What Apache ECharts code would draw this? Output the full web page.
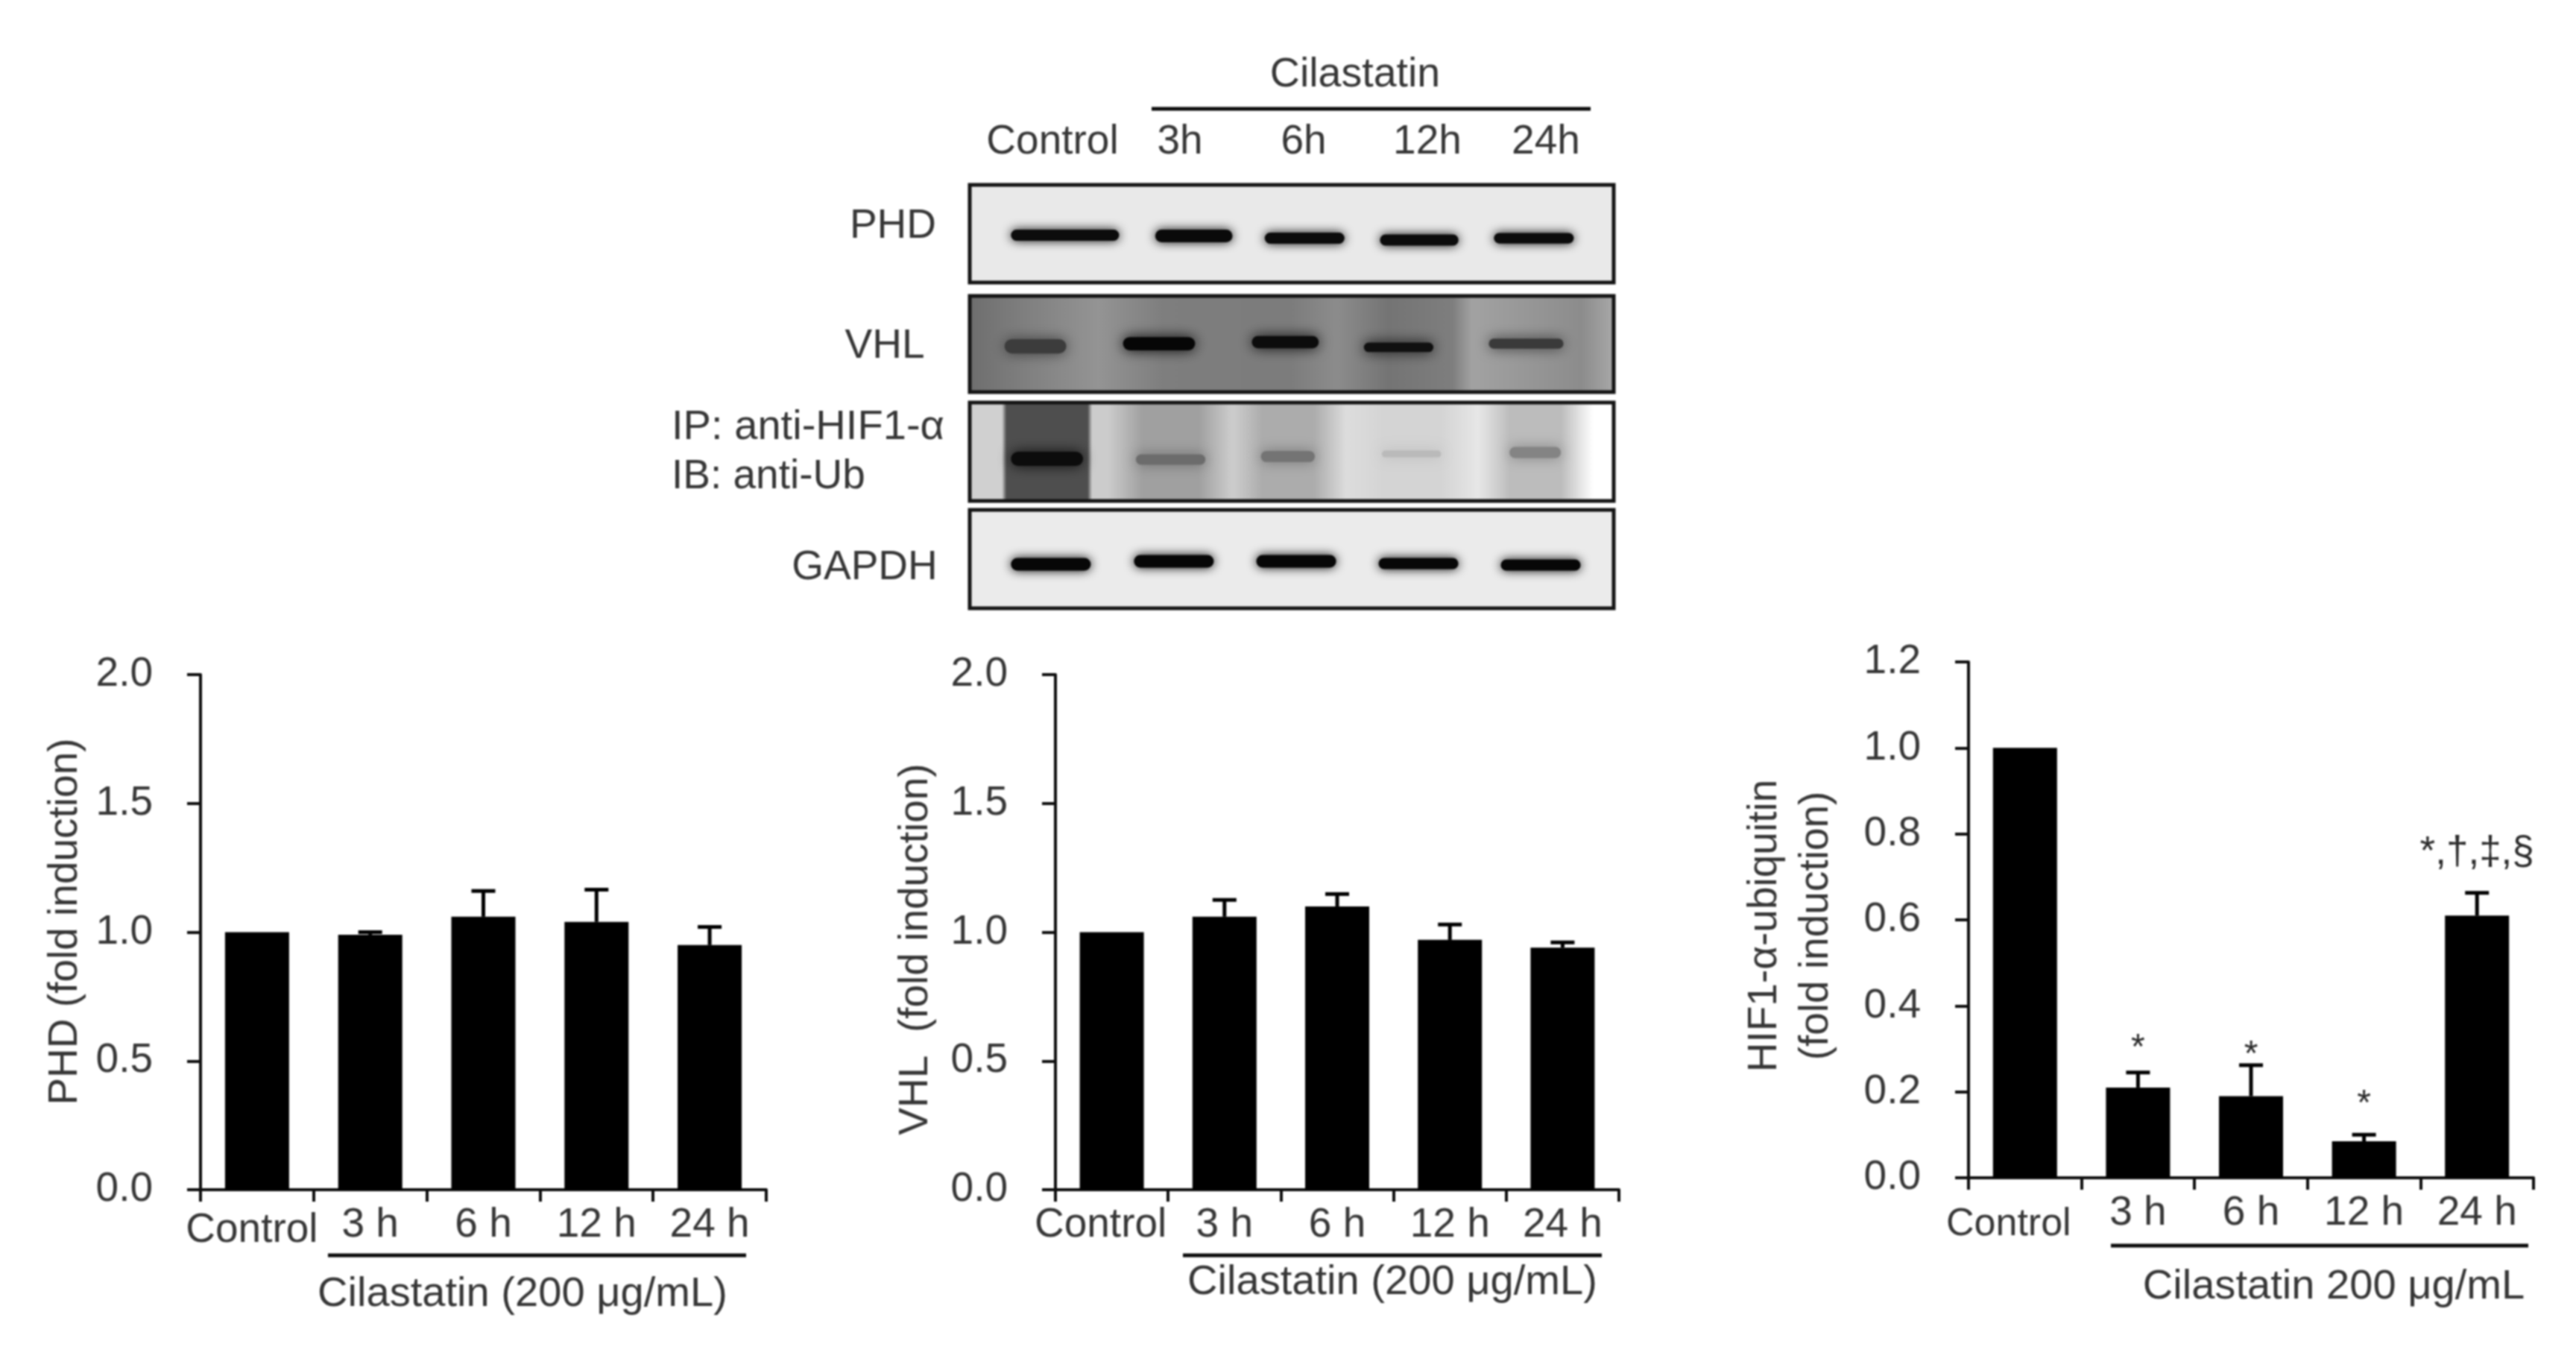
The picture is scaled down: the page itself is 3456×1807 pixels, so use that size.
<!DOCTYPE html>
<html>
<head>
<meta charset="utf-8">
<script src="https://cdn.jsdelivr.net/npm/echarts@6/dist/echarts.min.js"></script>
<style>
html,body{margin:0;padding:0;background:#fff}
#chart{width:3456px;height:1807px;filter:blur(1.1px)}
</style>
</head>
<body>
<div id="chart"></div>
<script>
// ---------- data ----------
const categories = ['Control', '3 h', '6 h', '12 h', '24 h'];
const phdMeans   = [1.0, 0.99, 1.06, 1.04, 0.95];
const phdUpper   = [1.0, 1.0, 1.16, 1.165, 1.02];
const vhlMeans   = [1.0, 1.06, 1.10, 0.97, 0.94];
const vhlUpper   = [1.0, 1.125, 1.148, 1.03, 0.96];
const ubqMeans   = [1.0, 0.21, 0.19, 0.085, 0.61];
const ubqUpper   = [1.0, 0.245, 0.262, 0.10, 0.663];
const ubqSigText = ['*', '*', '*', '*,†,‡,§'];
const ubqSigLane = [1, 2, 3, 3.96];
const ubqSigPos  = [0.30, 0.285, 0.17, 0.755];
const blotLanes  = ['Control', '3h', '6h', '12h', '24h'];

// blot panels: [top, bottom] in panel rows
const panelRows  = [[0, 0.923], [1.049, 1.958], [2.056, 2.986], [3.07, 4.0]];
// blot bands, per panel: lane position, row position, width, thickness, shade
const phdBands = [[0.74,0.475,0.84,0.105,'#0c0c0c'],[1.74,0.482,0.60,0.12,'#0a0a0a'],[2.60,0.504,0.62,0.105,'#0c0c0c'],[3.49,0.521,0.61,0.105,'#0c0c0c'],[4.38,0.504,0.62,0.10,'#0c0c0c']];
const vhlBands = [[0.51,1.525,0.48,0.135,'#3c3c3c'],[1.47,1.50,0.56,0.125,'#060606'],[2.45,1.486,0.52,0.115,'#0c0c0c'],[3.33,1.535,0.54,0.09,'#101010'],[4.32,1.50,0.58,0.095,'#3a3a3a']];
const ipLanes  = [[0.60,0.70,'#4e4e4e'],[1.56,0.98,'#a0a0a0'],[2.47,0.90,'#acacac'],[3.43,1.02,'#d4d4d4'],[4.39,0.90,'#bcbcbc']];
const ipBands  = [[0.60,2.588,0.56,0.135,'#0c0c0c'],[1.56,2.595,0.54,0.10,'#6c6c6c'],[2.47,2.566,0.42,0.105,'#747474'],[3.43,2.542,0.46,0.065,'#bababa'],[4.39,2.528,0.40,0.105,'#848484']];
const gapdhBands = [[0.63,3.585,0.62,0.12,'#070707'],[1.585,3.556,0.62,0.12,'#070707'],[2.535,3.556,0.62,0.12,'#070707'],[3.484,3.577,0.62,0.105,'#070707'],[4.433,3.592,0.62,0.105,'#070707']];

// ---------- styles ----------
const FONT = '"Liberation Sans", Arial, sans-serif';
const TXT = '#363636', INK = '#0d0d0d', FS = 55;
const G = echarts.graphic;
const hGrad = (stops) => new G.LinearGradient(0, 0, 1, 0, stops.map((c) => ({offset: c[0], color: c[1]})));
const panelFills = [
  '#e9e9e9',
  hGrad([[0,'#6e6e6e'],[0.08,'#7e7e7e'],[0.2,'#949494'],[0.3,'#7e7e7e'],[0.5,'#7c7c7c'],[0.57,'#8c8c8c'],[0.65,'#747474'],[0.75,'#7e7e7e'],[0.78,'#a2a2a2'],[0.95,'#8c8c8c'],[1,'#a8a8a8']]),
  hGrad([[0,'#d0d0d0'],[0.06,'#d0d0d0'],[0.2,'#cccccc'],[0.38,'#cecece'],[0.58,'#dcdcdc'],[0.78,'#e6e6e6'],[0.95,'#ffffff'],[1,'#ffffff']]),
  '#ebebeb'
];
const bandBlur = (i) => (i >= 5 && i < 15) ? 18 : 14;

const panels = [
  {left:269,  top:905, height:691, w:759, max:2.0, step:0.5, means:phdMeans, upper:phdUpper,
   name:'PHD (fold induction)', gap:147, pad:[0,0,0,28], ctrl:[7,14,0,0], ctrlFs:55},
  {left:1416, top:905, height:691, w:756, max:2.0, step:0.5, means:vhlMeans, upper:vhlUpper,
   name:'VHL  (fold induction)', gap:153, pad:[0,46,0,0], ctrl:[0,30,0,0], ctrlFs:55},
  {left:2641, top:888, height:692, w:758, max:1.2, step:0.2, means:ubqMeans, upper:ubqUpper,
   name:'HIF1-α-ubiquitin\n(fold induction)', gap:170, pad:[0,16,0,0], ctrl:[17,44,0,0], ctrlFs:52}
];

const grids = [], xAxes = [], yAxes = [], series = [];
panels.forEach((p, i) => {
  grids.push({left:p.left, top:p.top, width:p.w, height:p.height, containLabel:false});
  xAxes.push({
    gridIndex:i, type:'category', data:categories, boundaryGap:true,
    axisLine:{show:true, onZero:false, lineStyle:{color:INK, width:4}},
    axisTick:{show:true, inside:false, length:16, alignWithLabel:false, lineStyle:{color:INK, width:4}},
    axisLabel:{
      interval:0, margin:20, color:TXT, fontFamily:FONT, fontSize:FS, hideOverlap:false,
      formatter:(v) => v === 'Control' ? '{c|' + v + '}' : v,
      rich:{c:{fontFamily:FONT, fontSize:p.ctrlFs, color:TXT, padding:p.ctrl}}
    }
  });
  yAxes.push({
    gridIndex:i, type:'value', min:0, max:p.max, interval:p.step,
    name:p.name, nameLocation:'middle', nameGap:p.gap, nameRotate:90,
    nameTextStyle:{color:TXT, fontFamily:FONT, fontSize:FS, lineHeight:69, padding:p.pad},
    axisLine:{show:true, lineStyle:{color:INK, width:4}},
    axisTick:{show:true, inside:false, length:18, lineStyle:{color:INK, width:4}},
    splitLine:{show:false},
    axisLabel:{margin:64, color:TXT, fontFamily:FONT, fontSize:FS, formatter:(v) => v.toFixed(1)}
  });
  series.push({
    type:'bar', xAxisIndex:i, yAxisIndex:i, data:p.means, barWidth:86,
    itemStyle:{color:'#000'}, silent:true, z:3
  });
  series.push({
    type:'custom', xAxisIndex:i, yAxisIndex:i, z:2, silent:true, clip:false,
    data:p.upper.map((u, k) => [k, p.means[k], u]).filter((d) => d[2] > d[1]),
    encode:{x:0, y:[1,2]},
    renderItem:(params, api) => {
      const x = api.value(0);
      const a = api.coord([x, api.value(1)]);
      const b = api.coord([x, api.value(2)]);
      const st = {stroke:'#000', lineWidth:5};
      return {type:'group', children:[
        {type:'line', shape:{x1:a[0], y1:a[1], x2:b[0], y2:b[1]}, style:st},
        {type:'line', shape:{x1:b[0]-16, y1:b[1], x2:b[0]+16, y2:b[1]}, style:st}
      ]};
    }
  });
});

// significance marks on the third panel
series.push({
  type:'custom', xAxisIndex:2, yAxisIndex:2, z:4, silent:true, clip:false,
  data:ubqSigLane.map((l, k) => [l, ubqSigPos[k]]),
  encode:{x:0, y:1},
  renderItem:(params, api) => {
    const c = api.coord([api.value(0), api.value(1)]);
    const t = ubqSigText[params.dataIndex];
    return {type:'text', x:c[0], y:c[1], style:{
      text:t, fill:'#2a2a2a', font:(t.length > 1 ? 53 : 48) + 'px ' + FONT,
      textAlign:'center', textVerticalAlign:'middle'
    }};
  }
});

// blot coordinate system: lanes across, panel rows down
grids.push({left:1301, top:248, width:864, height:568, containLabel:false});
xAxes.push({gridIndex:3, type:'value', min:0, max:5, show:false});
yAxes.push({gridIndex:3, type:'value', min:0, max:4, inverse:true, show:false});

const blotBase = {type:'custom', xAxisIndex:3, yAxisIndex:3, silent:true, clip:false};
series.push(Object.assign({}, blotBase, {
  z:5, data:panelRows.map((r) => [0, r[0], 5, r[1]]), encode:{x:[0,2], y:[1,3]},
  renderItem:(params, api) => {
    const a = api.coord([0, api.value(1)]), b = api.coord([5, api.value(3)]);
    return {type:'rect', shape:{x:a[0], y:a[1], width:b[0]-a[0], height:b[1]-a[1]},
            style:{fill:panelFills[params.dataIndex]}};
  }
}));
series.push(Object.assign({}, blotBase, {
  z:6, data:ipLanes.map((l) => [l[0], l[1]]), encode:{x:0},
  renderItem:(params, api) => {
    const x = api.value(0), w = api.value(1);
    const r = panelRows[2];
    const a = api.coord([x - w / 2, r[0]]), b = api.coord([x + w / 2, r[1]]);
    const col = ipLanes[params.dataIndex][2];
    const e = params.dataIndex === 0 ? 0.05 : 0.28;
    return {type:'rect', shape:{x:a[0], y:a[1], width:b[0]-a[0], height:b[1]-a[1]},
            style:{fill:new G.LinearGradient(0, 0, 1, 0, [
              {offset:0, color:col + '00'}, {offset:e, color:col},
              {offset:1 - e, color:col}, {offset:1, color:col + '00'}])}};
  }
}));
const allBands = [].concat(phdBands, vhlBands, ipBands, gapdhBands);
series.push(Object.assign({}, blotBase, {
  z:7, data:allBands.map((b) => [b[0], b[1], b[2], b[3]]), encode:{x:0, y:1},
  renderItem:(params, api) => {
    const c = api.coord([api.value(0), api.value(1)]);
    const s = api.size([api.value(2), api.value(3)]);
    const col = allBands[params.dataIndex][4];
    return {type:'rect', shape:{x:c[0]-s[0]/2, y:c[1]-s[1]/2, width:s[0], height:s[1], r:s[1]/2},
            style:{fill:col, shadowBlur:bandBlur(params.dataIndex), shadowColor:col}};
  }
}));
series.push(Object.assign({}, blotBase, {
  z:8, data:panelRows.map((r) => [0, r[0], 5, r[1]]), encode:{x:[0,2], y:[1,3]},
  renderItem:(params, api) => {
    const a = api.coord([0, api.value(1)]), b = api.coord([5, api.value(3)]);
    return {type:'rect', shape:{x:a[0], y:a[1], width:b[0]-a[0], height:b[1]-a[1]},
            style:{fill:'none', stroke:'#141414', lineWidth:5}};
  }
}));

// text and rules around the panels
const label = (text, x, y, sx, align) => ({
  type:'text', x:x, y:y, scaleX:sx || 1, silent:true, z:20,
  style:{text:text, fill:TXT, font:FS + 'px ' + FONT, textAlign:align || 'center', textVerticalAlign:'middle'}
});
const rule = (x1, x2, y) => ({
  type:'line', shape:{x1:x1, y1:y, x2:x2, y2:y}, silent:true, z:20,
  style:{stroke:'#0a0a0a', lineWidth:5}
});
const laneLabelX = [1412, 1583, 1749, 1915, 2074];
const graphic = [
  label('Cilastatin', 1818, 101, 1.01),
  rule(1545, 2134, 146)
].concat(
  blotLanes.map((t, i) => label(t, laneLabelX[i], 191, 1)),
  [
    label('PHD', 1198, 304),
    label('VHL', 1187, 465),
    label('IP: anti-HIF1-α', 901, 574, 1.02, 'left'),
    label('IB: anti-Ub', 901, 640, 1, 'left'),
    label('GAPDH', 1160, 762),
    rule(440, 1001, 1684),
    label('Cilastatin (200 μg/mL)', 701, 1737, 1.02),
    rule(1587, 2149, 1684),
    label('Cilastatin (200 μg/mL)', 1868, 1721, 1.02),
    rule(2832, 3392, 1671),
    label('Cilastatin 200 μg/mL', 3131, 1727, 1.02)
  ]
);

const chart = echarts.init(document.getElementById('chart'), null, {renderer:'canvas'});
chart.setOption({
  animation:false, backgroundColor:'#fff',
  grid:grids, xAxis:xAxes, yAxis:yAxes, series:series, graphic:graphic
});
</script>
</body>
</html>
